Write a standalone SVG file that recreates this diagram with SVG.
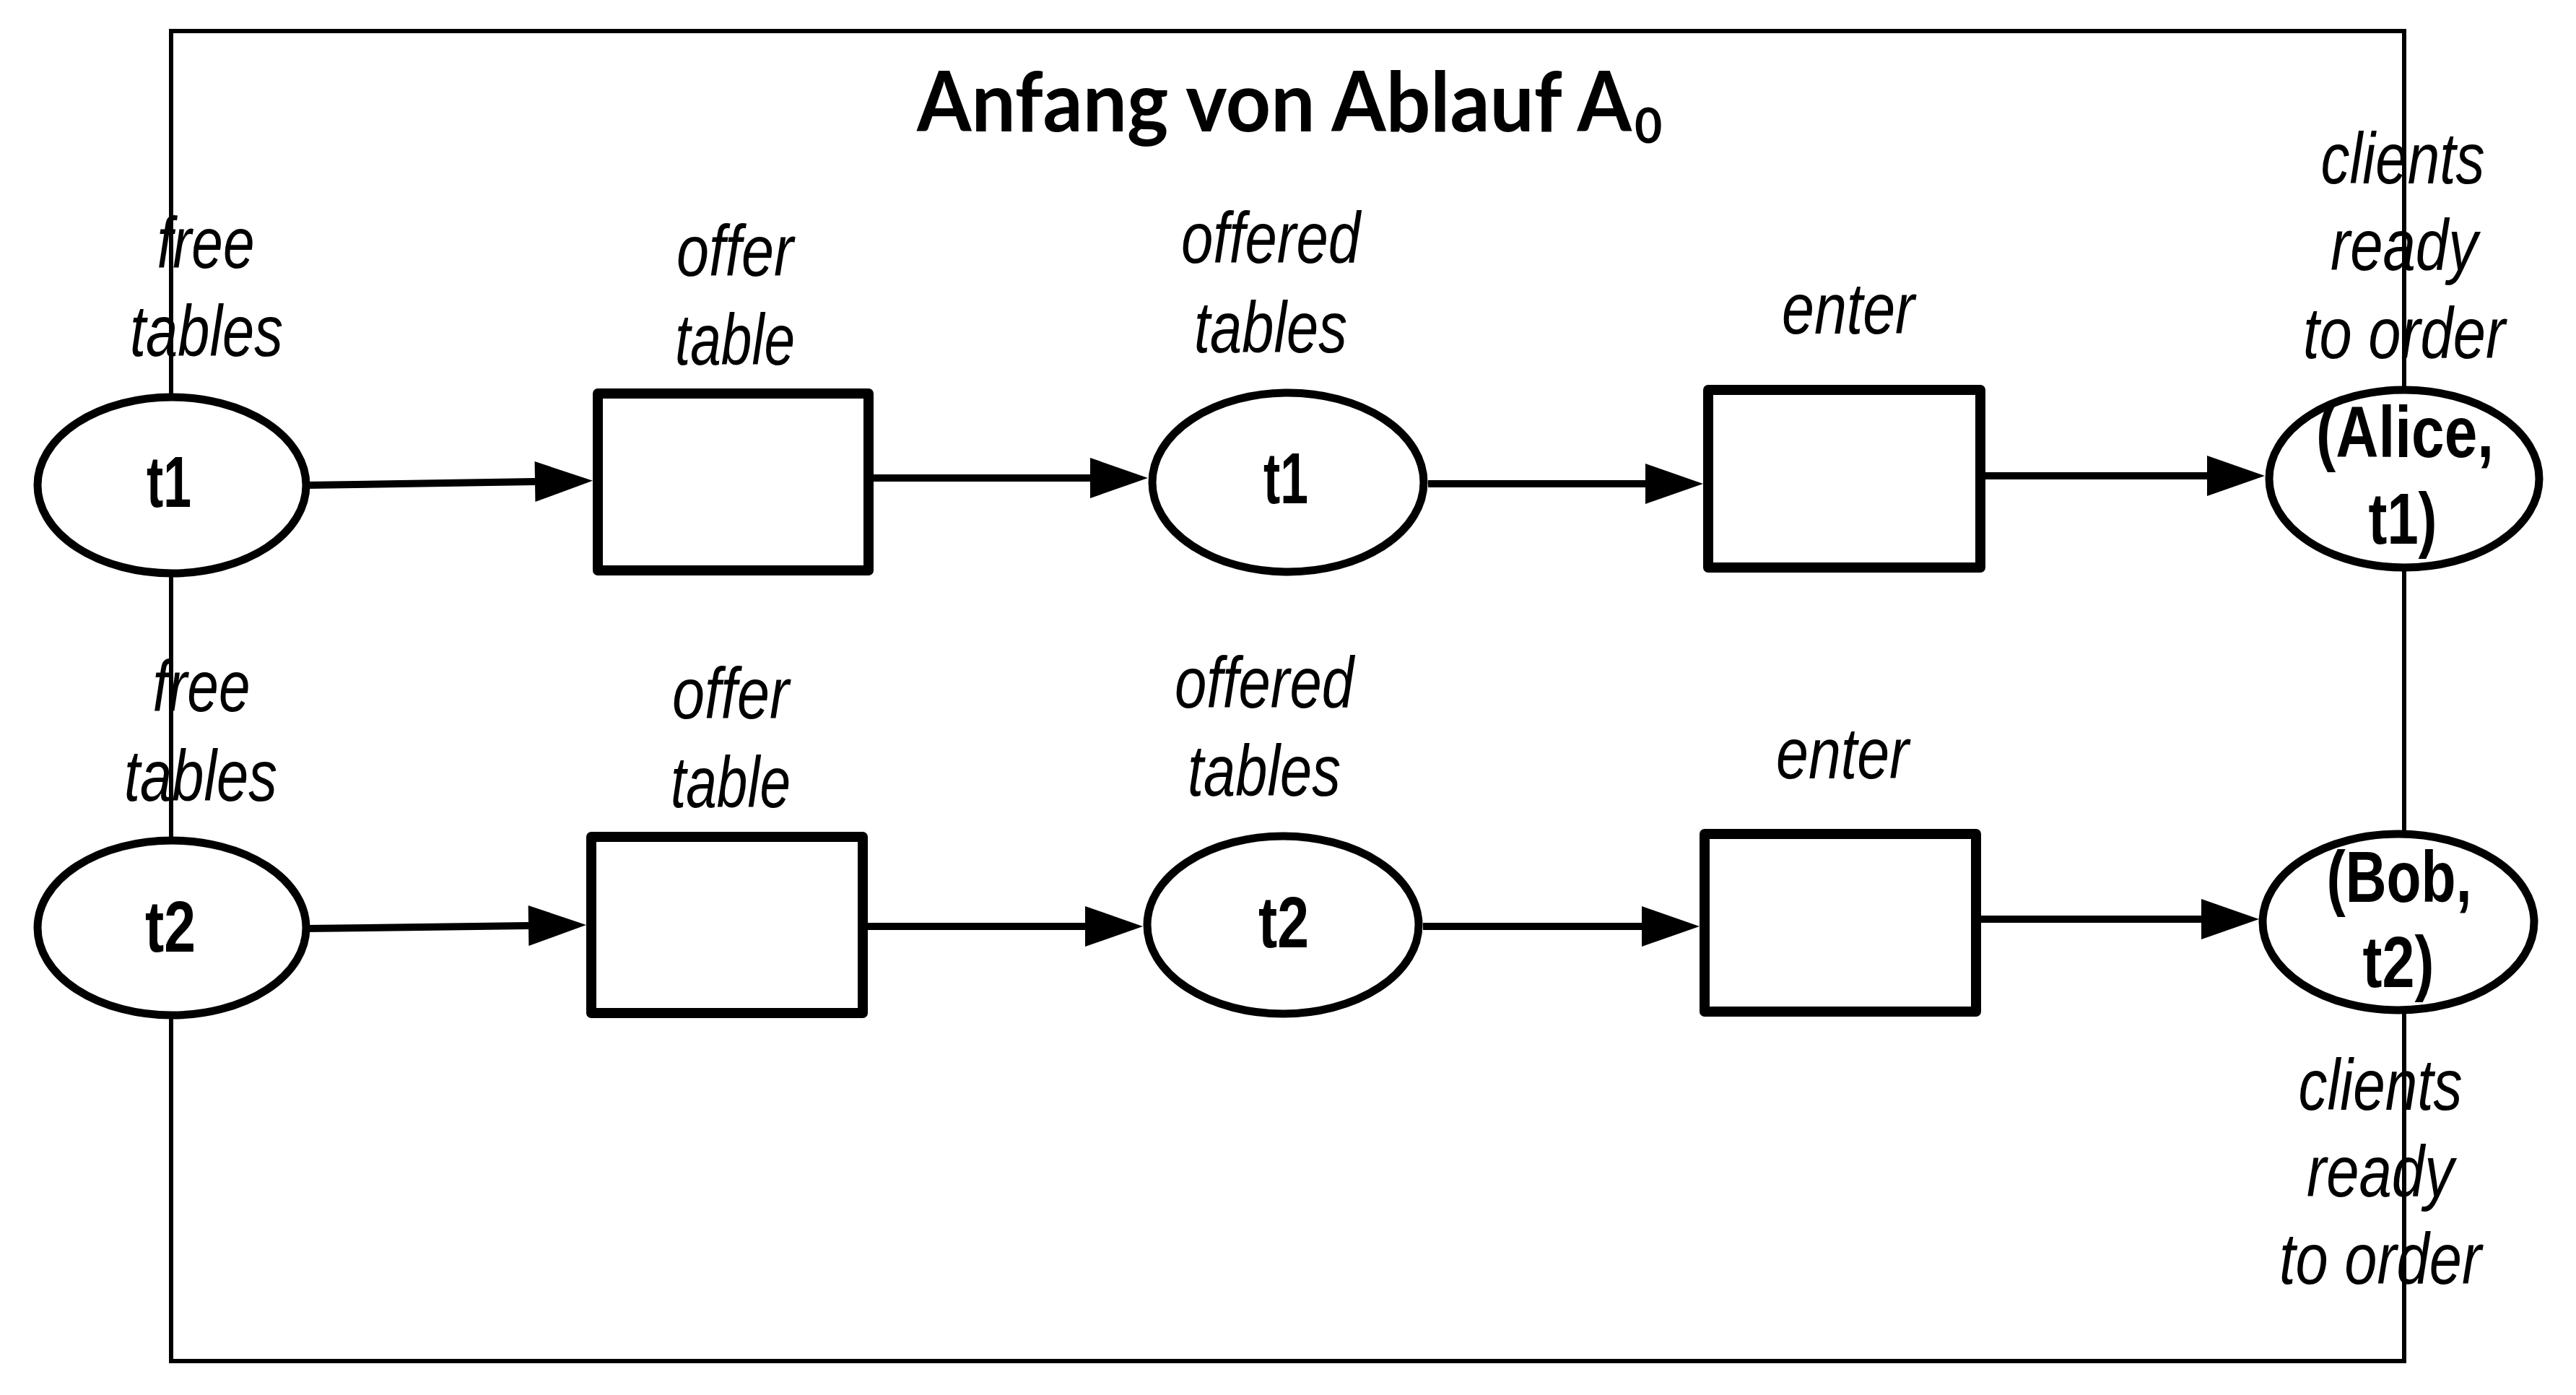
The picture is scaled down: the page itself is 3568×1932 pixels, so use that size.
<svg xmlns="http://www.w3.org/2000/svg" width="3568" height="1932" viewBox="0 0 3568 1932">
<style>
.frame{fill:none;stroke:#000;stroke-width:6}
.place{fill:#fff;stroke:#000;stroke-width:11}
.trans{fill:#fff;stroke:#000;stroke-width:14;stroke-linejoin:round}
.arc{fill:none;stroke:#000;stroke-width:10}
.lbl{font-family:"Liberation Sans Narrow","Liberation Sans",Arial,sans-serif;font-style:italic;font-size:100px;fill:#000;text-anchor:middle}
.tok{font-family:"Liberation Sans Narrow","Liberation Sans",Arial,sans-serif;font-weight:bold;font-size:100px;fill:#000;text-anchor:middle}
.title{font-family:Lato,"Liberation Sans",sans-serif;font-weight:bold;fill:#000}
</style>
<defs>
<marker id="ah" markerUnits="userSpaceOnUse" markerWidth="80" markerHeight="56" refX="0" refY="28" orient="auto" overflow="visible">
<path d="M0,0 L80,28 L0,56 Z" fill="#000"/>
</marker>
</defs>
<rect id="frame" class="frame" x="237" y="43" width="3093" height="1842"/>
<g id="title">
<text class="title" x="1270" y="182" font-size="114"><tspan textLength="990" lengthAdjust="spacingAndGlyphs">Anfang von Ablauf A</tspan><tspan font-size="66" dx="4" dy="16">0</tspan></text>
</g>
<g id="connectors">
<line class="arc" x1="424" y1="672" x2="741" y2="667" marker-end="url(#ah)"/>
<line class="arc" x1="1210" y1="662" x2="1510" y2="662" marker-end="url(#ah)"/>
<line class="arc" x1="1978" y1="670" x2="2279" y2="670" marker-end="url(#ah)"/>
<line class="arc" x1="2750" y1="659" x2="3057" y2="659" marker-end="url(#ah)"/>
<line class="arc" x1="424" y1="1286" x2="732" y2="1282" marker-end="url(#ah)"/>
<line class="arc" x1="1202" y1="1283" x2="1503" y2="1283" marker-end="url(#ah)"/>
<line class="arc" x1="1971" y1="1283" x2="2274" y2="1283" marker-end="url(#ah)"/>
<line class="arc" x1="2744" y1="1273" x2="3049" y2="1273" marker-end="url(#ah)"/>
</g>
<g id="p_free1">
<ellipse class="place" cx="238" cy="672" rx="186" ry="122"/>
<text class="tok" x="234" y="702" textLength="62" lengthAdjust="spacingAndGlyphs">t1</text>
<text class="lbl" x="285" y="371" textLength="135" lengthAdjust="spacingAndGlyphs">free</text>
<text class="lbl" x="286" y="493" textLength="212" lengthAdjust="spacingAndGlyphs">tables</text>
</g>
<g id="t_offer1">
<rect class="trans" x="828" y="545" width="375" height="245"/>
<text class="lbl" x="1018" y="382" textLength="162" lengthAdjust="spacingAndGlyphs">offer</text>
<text class="lbl" x="1018" y="505" textLength="166" lengthAdjust="spacingAndGlyphs">table</text>
</g>
<g id="p_offered1">
<ellipse class="place" cx="1784" cy="668" rx="188" ry="124"/>
<text class="tok" x="1781" y="697" textLength="62" lengthAdjust="spacingAndGlyphs">t1</text>
<text class="lbl" x="1760" y="364" textLength="248" lengthAdjust="spacingAndGlyphs">offered</text>
<text class="lbl" x="1760" y="488" textLength="212" lengthAdjust="spacingAndGlyphs">tables</text>
</g>
<g id="t_enter1">
<rect class="trans" x="2366" y="540" width="377" height="246"/>
<text class="lbl" x="2560" y="462" textLength="184" lengthAdjust="spacingAndGlyphs">enter</text>
</g>
<g id="p_clients1">
<ellipse class="place" cx="3330" cy="663" rx="187" ry="123"/>
<text class="tok" x="3331" y="633" textLength="246" lengthAdjust="spacingAndGlyphs">(Alice,</text>
<text class="tok" x="3328" y="753" textLength="95" lengthAdjust="spacingAndGlyphs">t1)</text>
<text class="lbl" x="3328" y="254" textLength="227" lengthAdjust="spacingAndGlyphs">clients</text>
<text class="lbl" x="3330" y="374" textLength="204" lengthAdjust="spacingAndGlyphs">ready</text>
<text class="lbl" x="3330" y="496" textLength="280" lengthAdjust="spacingAndGlyphs">to order</text>
</g>
<g id="p_free2">
<ellipse class="place" cx="238" cy="1285" rx="186" ry="121"/>
<text class="tok" x="236" y="1318" textLength="70" lengthAdjust="spacingAndGlyphs">t2</text>
<text class="lbl" x="279" y="985" textLength="135" lengthAdjust="spacingAndGlyphs">free</text>
<text class="lbl" x="278" y="1109" textLength="212" lengthAdjust="spacingAndGlyphs">tables</text>
</g>
<g id="t_offer2">
<rect class="trans" x="819" y="1159" width="376" height="244"/>
<text class="lbl" x="1012" y="995" textLength="162" lengthAdjust="spacingAndGlyphs">offer</text>
<text class="lbl" x="1012" y="1118" textLength="166" lengthAdjust="spacingAndGlyphs">table</text>
</g>
<g id="p_offered2">
<ellipse class="place" cx="1777" cy="1281" rx="188" ry="123"/>
<text class="tok" x="1778" y="1312" textLength="70" lengthAdjust="spacingAndGlyphs">t2</text>
<text class="lbl" x="1751" y="980" textLength="248" lengthAdjust="spacingAndGlyphs">offered</text>
<text class="lbl" x="1751" y="1102" textLength="212" lengthAdjust="spacingAndGlyphs">tables</text>
</g>
<g id="t_enter2">
<rect class="trans" x="2361" y="1155" width="376" height="246"/>
<text class="lbl" x="2552" y="1078" textLength="184" lengthAdjust="spacingAndGlyphs">enter</text>
</g>
<g id="p_clients2">
<ellipse class="place" cx="3322" cy="1277" rx="188" ry="122"/>
<text class="tok" x="3323" y="1249" textLength="201" lengthAdjust="spacingAndGlyphs">(Bob,</text>
<text class="tok" x="3322" y="1367" textLength="99" lengthAdjust="spacingAndGlyphs">t2)</text>
<text class="lbl" x="3297" y="1537" textLength="227" lengthAdjust="spacingAndGlyphs">clients</text>
<text class="lbl" x="3297" y="1657" textLength="204" lengthAdjust="spacingAndGlyphs">ready</text>
<text class="lbl" x="3297" y="1778" textLength="280" lengthAdjust="spacingAndGlyphs">to order</text>
</g>
</svg>
